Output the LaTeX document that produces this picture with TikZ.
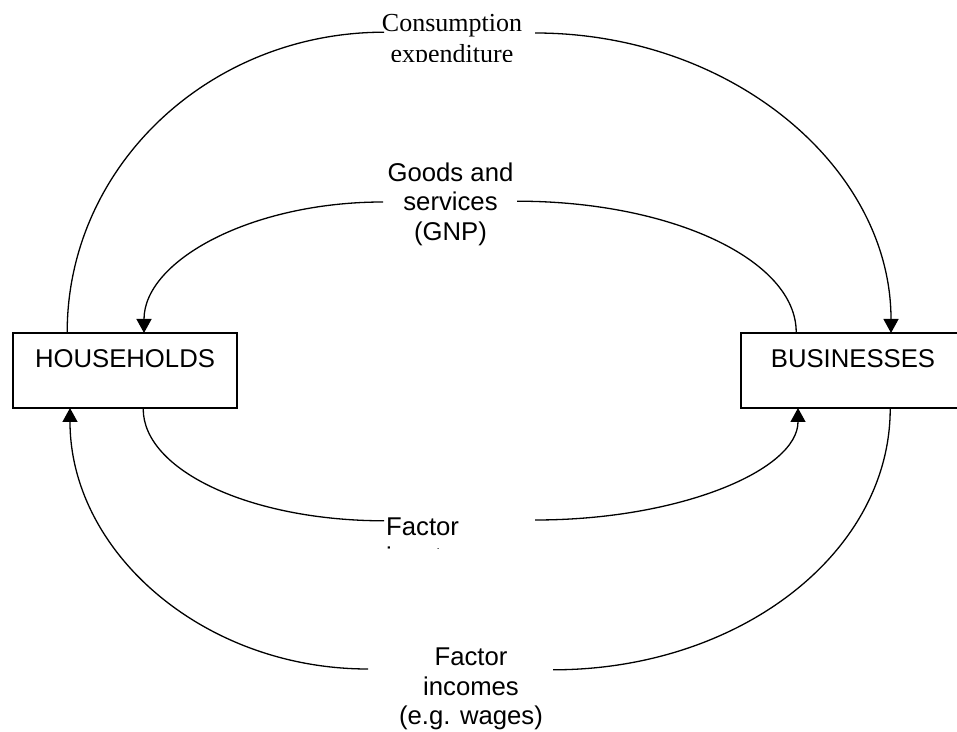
\documentclass[tikz,border=0pt]{standalone}
\usepackage{fontspec}
\setmainfont{Liberation Sans}
\newfontfamily\timesfont{Liberation Serif}
\usetikzlibrary{arrows.meta, calc}

\begin{document}
\begin{tikzpicture}[x=1pt, y=1pt,
  sector/.style={draw, line width=1.6pt, minimum width=224pt, inner sep=0pt,
    text height=35pt, text depth=40pt, font=\fontsize{25.7}{29.6}\selectfont},
  flow/.style={line width=1.3pt},
  flowin/.style={line width=1.3pt, -{Triangle[length=14pt,width=15pt]}},
  lbl/.style={inner sep=0pt, align=center, font=\fontsize{25.7}{29.6}\selectfont}]
\useasboundingbox (0,0) rectangle (957,731);

\node[sector] (hh) at (125,360.5) {HOUSEHOLDS};
\node[sector] (bb) at (853,360.5) {BUSINESSES};

% free ends next to the labels
\coordinate (ce-r) at (535,698);
\coordinate (gs-l) at (383,529);
\coordinate (fi-r) at (535,211);
\coordinate (inc-l) at (368,62);

% consumption expenditure
\draw[flow] ($(hh.north west)+(55,0)$) arc[start angle=180, end angle=90, x radius=317, y radius=300];
\draw[flowin] (ce-r) arc[start angle=90, end angle=0, x radius=356, y radius=300];

% goods and services
\draw[flow] ($(bb.north west)+(56,0)$) arc[start angle=0, end angle=90, x radius=279, y radius=131];
\draw[flowin] (gs-l) arc[start angle=90, end angle=180, x radius=239, y radius=131];

% factor inputs
\draw[flow] ($(hh.south west)+(131,0)$) arc[start angle=180, end angle=270, x radius=241, y radius=112];
\draw[flowin] (fi-r) arc[start angle=270, end angle=360, x radius=263, y radius=112];

% factor incomes
\draw[flow] ($(bb.south west)+(150,0)$) arc[start angle=0, end angle=-90, x radius=337, y radius=261];
\draw[flowin] (inc-l) arc[start angle=270, end angle=180, x radius=298, y radius=261];

% labels
\begin{scope}
  \clip (380,669) rectangle (540,731);
  \node[lbl, font=\timesfont\fontsize{26}{31}\selectfont] (cons) at (452,689.6) {Consumption\\expenditure};
\end{scope}
\node[lbl] (goods) at (450.5,526.7) {Goods and\\services\\(GNP)};
\begin{scope}
  \clip (380,183) rectangle (540,230);
  \node[lbl, align=left, anchor=west] (inputs) at (386,186.7) {Factor\\inputs};
\end{scope}
\node[lbl] (incomes) at (471,42) {Factor\\incomes\\(e.g. wages)};
\end{tikzpicture}
\end{document}
